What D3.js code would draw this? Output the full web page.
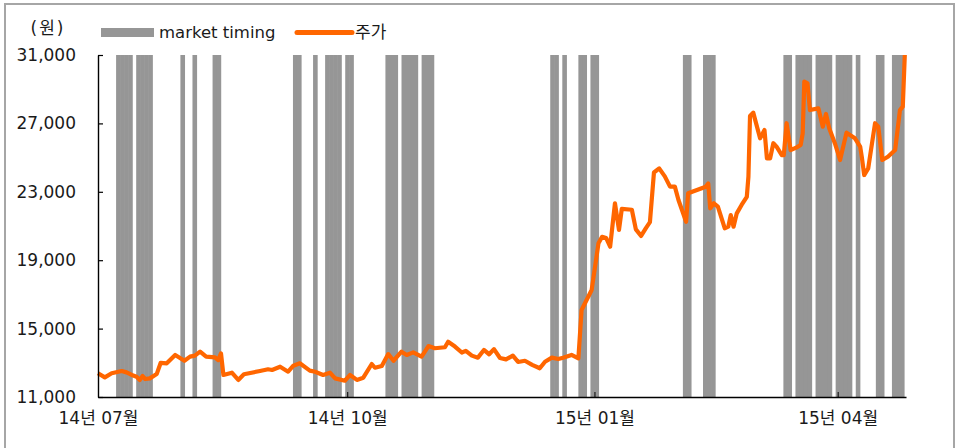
<!DOCTYPE html>
<html>
<head>
<meta charset="utf-8">
<script src="https://cdn.jsdelivr.net/npm/d3@7"></script>
<style>
  html, body { margin: 0; padding: 0; background: #fff; }
  svg { display: block; }
  text { font-family: 'DejaVu Sans', 'Noto Sans CJK KR', sans-serif; fill: #1a1a1a; }
</style>
</head>
<body>
<svg id="chart" width="957" height="448"></svg>
<script>
// Trading-day position (0 = first trading day of Jul 2014) and closing price at each vertex
const priceDays = [
  0, 1.7, 3.4, 5.9, 7.1, 8.4, 9.6, 10.4, 11.1, 11.7, 12.9, 14.6, 15.6, 17.1, 19.2, 21.5,
  22.9, 24.1, 25.4, 26.9, 29.1, 29.9, 30.6, 31.2, 33.3, 34.9, 36.3, 40.3, 42.3, 43.3, 45.3,
  47.3, 48.6, 50.2, 52.7, 54.0, 56.0, 57.7, 59.0, 61.4, 62.7, 64.4, 66.0, 68.1, 68.9, 70.6,
  72.2, 73.5, 75.5, 76.8, 78.4, 80.5, 82.2, 83.8, 86.3, 87.1, 88.8, 90.5, 91.5, 93.0, 94.5,
  96.0, 97.3, 98.5, 100.0, 101.5, 103.2, 104.5, 106.2, 108.0, 109.9, 111.2, 112.9, 114.5,
  115.7, 117.8, 119.5, 120.3, 122.8, 124.5, 125.4, 126.4, 127.4, 128.6, 129.6, 130.3, 132.8,
  133.8, 135.1, 136.3, 137.3, 138.3, 139.6, 141.0, 142.3, 143.5, 144.4, 146.3, 146.8, 151.2,
  151.8, 152.3, 153.2, 154.2, 155.9, 156.8, 157.4, 158.1, 158.9, 160.1, 161.4, 161.8, 162.2,
  163.0, 164.7, 165.8, 166.4, 167.2, 168.0, 168.8, 170.1, 170.6, 171.3, 172.3, 173.8, 174.8,
  175.3, 175.7, 176.5, 177.1, 179.2, 180.3, 181.1, 181.9, 183.3, 184.6, 186.2, 188.3, 189.6,
  190.0, 190.6, 191.6, 193.3, 194.1, 195.1, 196.5, 198.3, 199.5, 200.2, 200.7
];
const prices = [
  12390, 12150, 12390, 12520, 12440, 12290, 12190, 12000, 12230, 12050, 12090, 12340, 13000, 12970, 13460, 13120,
  13360, 13420, 13650, 13360, 13320, 13160, 13550, 12290, 12420, 12000, 12330, 12520, 12620, 12580, 12770,
  12480, 12830, 12970, 12540, 12480, 12290, 12420, 12090, 11950, 12290, 12000, 12130, 12930, 12710, 12810,
  13510, 13120, 13650, 13460, 13610, 13360, 13980, 13850, 13910, 14230, 13950, 13600, 13700, 13420, 13300,
  13750, 13500, 13800, 13280, 13200, 13420, 13050, 13120, 12880, 12680, 13060, 13300, 13220,
  13300, 13460, 13260, 16090, 17260, 19990, 20370, 20300, 19790, 22330, 20770, 22000, 21950,
  20800, 20420, 20880, 21230, 24130, 24370, 23900, 23300, 23300, 22520, 21250, 22910, 23300,
  23490, 22030, 22330, 22130, 20870, 20960, 21640, 20960, 21740, 22230, 22710, 23880, 27430,
  27630, 26130, 26610, 24960, 24960, 25840, 25640, 25150, 25150, 27010, 25440, 25600, 25740,
  26420, 29440, 29340, 27780, 27880, 26810, 27550, 26710, 25840, 24860, 26460, 26130, 25640,
  25050, 23980, 24370, 27010, 26810, 24860, 25050, 25440, 27780, 27980, 31000
];

// Trading days on which the market-timing signal was on
const timingDays = [
  5, 6, 7, 8, 10, 11, 12, 13, 21, 24, 29, 30, 49, 50, 54, 57, 58, 59, 60, 62, 63,
  72, 73, 74, 76, 77, 78, 79, 81, 82, 83, 113, 114, 116, 120, 121, 123, 124,
  146, 147, 151, 152, 153, 171, 172, 174, 175, 176, 177, 179, 180, 181, 182,
  184, 185, 186, 187, 189, 194, 195, 198, 199, 200
];

const yTicks = [11000, 15000, 19000, 23000, 27000, 31000];
const monthTicks = [0, 62, 123.5, 184];
const monthLabels = ["14년 07월", "14년 10월", "15년 01월", "15년 04월"];
const seriesNames = ["market timing", "주가"];
const unitLabel = "(원)";

const colors = { timing: "#969696", price: "#ff6600" };

const svg = d3.select("#chart");
const plot = { left: 98, right: 906, top: 55, bottom: 397 };

const x = d3.scaleLinear().domain([0, 201]).range([plot.left, plot.right]);
const y = d3.scaleLinear().domain([11000, 31000]).range([plot.bottom, plot.top]);

// outer frame
svg.append("rect")
  .attr("x", 5).attr("y", 4)
  .attr("width", 949).attr("height", 470)
  .attr("fill", "none")
  .attr("stroke", "#a6a6a6")
  .attr("stroke-width", 2);

// market-timing columns, one per signal day; a small overlap keeps runs of days solid
svg.append("g")
  .selectAll("rect")
  .data(timingDays)
  .join("rect")
  .attr("x", d => x(d - 0.5))
  .attr("width", d => x(d + 0.5) - x(d - 0.5) + 0.6)
  .attr("y", y(31000))
  .attr("height", y(11000) - y(31000))
  .attr("fill", colors.timing);

// price line
const pricePoints = priceDays.map((d, i) => [d, prices[i]]);
svg.append("path")
  .datum(pricePoints)
  .attr("fill", "none")
  .attr("stroke", colors.price)
  .attr("stroke-width", 4.2)
  .attr("stroke-linejoin", "round")
  .attr("stroke-linecap", "butt")
  .attr("d", d3.line().x(d => x(d[0])).y(d => y(d[1])));

// y axis
const yAxis = svg.append("g")
  .attr("transform", `translate(${plot.left},0)`)
  .call(d3.axisLeft(y)
    .tickValues(yTicks)
    .tickFormat(d3.format(","))
    .tickSizeInner(-5)
    .tickSizeOuter(0)
    .tickPadding(22));
yAxis.select(".domain").attr("stroke", "#000").attr("stroke-width", 1.4);
yAxis.selectAll(".tick line").attr("stroke", "#000").attr("stroke-width", 1.2);
yAxis.selectAll("text")
  .style("font-size", "17px")
  .attr("fill", "#1a1a1a");

// x axis
const xAxis = svg.append("g")
  .attr("transform", `translate(0,${plot.bottom})`)
  .call(d3.axisBottom(x)
    .tickValues(monthTicks)
    .tickFormat((d, i) => monthLabels[i])
    .tickSizeInner(-5)
    .tickSizeOuter(0)
    .tickPadding(15));
xAxis.select(".domain").attr("stroke", "#000").attr("stroke-width", 1.4);
xAxis.selectAll(".tick line").attr("stroke", "#000").attr("stroke-width", 1);
xAxis.selectAll("text")
  .style("font-size", "17px")
  .attr("fill", "#1a1a1a");

// unit label
svg.append("text")
  .attr("x", 48).attr("y", 28)
  .attr("dy", "0.35em")
  .attr("text-anchor", "middle")
  .style("font-size", "17px")
  .style("letter-spacing", "2px")
  .text(unitLabel);

// legend
const legend = svg.append("g");
legend.append("rect")
  .attr("x", 101).attr("y", 28)
  .attr("width", 53).attr("height", 9)
  .attr("fill", colors.timing);
legend.append("text")
  .attr("x", 159).attr("y", 38)
  .style("font-size", "16.5px")
  .text(seriesNames[0]);
legend.append("line")
  .attr("x1", 297).attr("x2", 352)
  .attr("y1", 32.5).attr("y2", 32.5)
  .attr("stroke", colors.price)
  .attr("stroke-width", 5)
  .attr("stroke-linecap", "round");
legend.append("text")
  .attr("x", 355).attr("y", 38)
  .style("font-size", "17px")
  .text(seriesNames[1]);
</script>
</body>
</html>
